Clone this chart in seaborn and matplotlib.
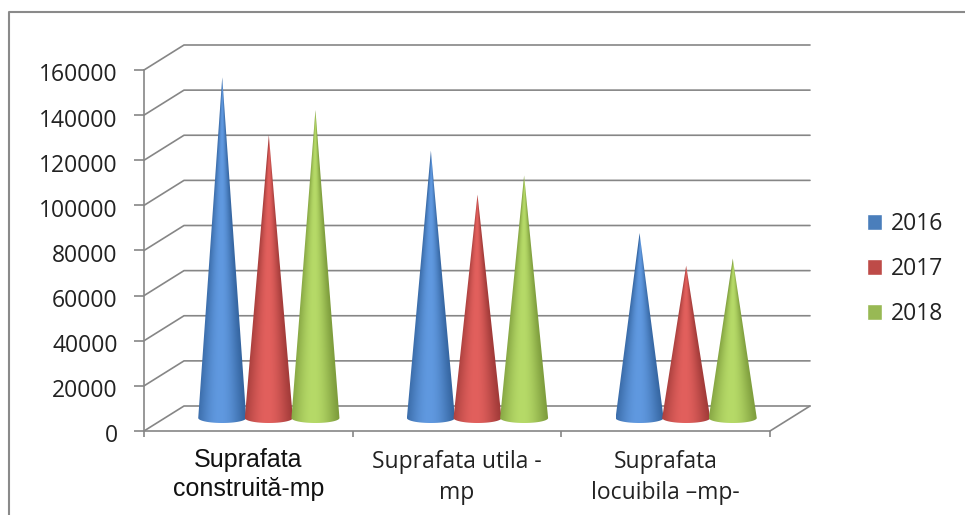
import numpy as np
import pandas as pd
import matplotlib
matplotlib.use('Agg')
import matplotlib.pyplot as plt
from matplotlib.lines import Line2D
from matplotlib.path import Path
from matplotlib.patches import PathPatch
from matplotlib.colors import to_rgb
from matplotlib.transforms import ScaledTranslation
import seaborn as sns

# values
categories = ['Suprafata\nconstruită-mp', 'Suprafata utila -\nmp', 'Suprafata\nlocuibila –mp-']
years = ['2016', '2017', '2018']
values_2016 = [151000, 118500, 82000]
values_2017 = [125500, 99000, 67500]
values_2018 = [136500, 107500, 70700]
y_ticks = [0, 20000, 40000, 60000, 80000, 100000, 120000, 140000, 160000]

palette = {'2016': '#4a7ebb', '2017': '#be4b48', '2018': '#98b954'}
dark = {'2016': '#34649f', '2017': '#a03a38', '2018': '#7d9c3c'}
light = {'2016': '#6099e0', '2017': '#e2605d', '2018': '#b6da68'}
grid_col = '#868686'
text_col = '#222222'

df = pd.DataFrame({
    'category': categories * 3,
    'year': [y for y in years for _ in categories],
    'value': values_2016 + values_2017 + values_2018,
})

sns.set_theme(style='white')
plt.rcParams['font.family'] = ['Open Sans', 'DejaVu Sans']

fig = plt.figure(figsize=(9.65, 5.15), dpi=100)
ax = fig.add_axes([144 / 965, (515 - 431) / 515, 626 / 965, 361 / 515])

sns.barplot(data=df, x='category', y='value', hue='year', palette=palette,
            saturation=1, width=0.67, ax=ax)

ax.set_xlim(-0.5, 2.5)
ax.set_ylim(0, 160000)
ax.set_xlabel('')
ax.set_ylabel('')

# sizes of the fake 3d box, pixels turned into data units
px_x = 3 / 626
px_y = 160000 / 361
wall_dx, wall_dy = 40 * px_x, 25 * px_y
cone_dx, cone_dy = 20.5 * px_x, 13 * px_y
ell_h = 5 * px_y

# gridlines on the back wall and the diagonals on the side wall
for t in y_ticks:
    ax.plot([-0.5, -0.5 + wall_dx, 2.5 + wall_dx], [t, t + wall_dy, t + wall_dy],
            color=grid_col, lw=1.2, clip_on=False, zorder=1)
ax.plot([2.5, 2.5 + wall_dx], [0, wall_dy], color=grid_col, lw=1.2, clip_on=False, zorder=1)


def draw_cone(bar, year):
    xc = bar.get_x() + bar.get_width() / 2 + cone_dx
    hw = bar.get_width() / 2 * 1.03
    top = bar.get_height() + cone_dy
    base = cone_dy

    xs = np.linspace(xc - hw, xc + hw, 120)
    ys = np.linspace(base - ell_h, top, 300)
    xx, yy = np.meshgrid(xs, ys)
    frac = np.clip((yy - base) / (top - base), 0, 0.995)
    u = (xx - xc) / (hw * (1 - frac))
    shade = np.clip(1 - ((u + 0.1) / 1.1) ** 2, 0, 1)[..., None] ** 1.5
    img = np.array(to_rgb(dark[year])) * (1 - shade) + np.array(to_rgb(light[year])) * shade

    im = ax.imshow(img, extent=[xc - hw, xc + hw, base - ell_h, top], origin='lower',
                   aspect='auto', interpolation='bilinear', zorder=3)
    ang = np.linspace(np.pi, 2 * np.pi, 30)
    pts = [(xc, top)] + [(xc + hw * np.cos(a), base + ell_h * np.sin(a)) for a in ang] + [(xc, top)]
    clip = PathPatch(Path(pts), transform=ax.transData, fc='none', ec='none')
    ax.add_patch(clip)
    im.set_clip_path(clip)


for container, year in zip(ax.containers, years):
    for bar in container:
        draw_cone(bar, year)

ax.set_xlim(-0.5, 2.5)
ax.set_ylim(0, 160000)

# legend uses the bars' colours, the flat bars themselves get hidden after
handles, labels = ax.get_legend_handles_labels()
ax.legend(handles, labels, loc='upper left', bbox_to_anchor=(866.5 / 965, 1 - 212 / 515),
          bbox_transform=fig.transFigure, frameon=False, prop={'family': 'Open Sans', 'size': 16.5},
          labelcolor=text_col, handlelength=0.66, handleheight=0.66, handletextpad=0.4,
          labelspacing=0.92, borderpad=0, borderaxespad=0)
for container in ax.containers:
    for bar in container:
        bar.set_visible(False)

# axes
for side in ['top', 'right']:
    ax.spines[side].set_visible(False)
for side in ['left', 'bottom']:
    ax.spines[side].set_color(grid_col)
    ax.spines[side].set_linewidth(1.2)

ax.set_yticks(y_ticks)
ax.set_yticklabels([str(t) for t in y_ticks], fontsize=16.5, color=text_col)
ax.tick_params(axis='y', length=7, width=1.2, color=grid_col, pad=12, left=True)
# the value labels sit a little under their ticks
for label in ax.get_yticklabels():
    label.set_transform(label.get_transform() + ScaledTranslation(0, -2.5 / 100, fig.dpi_scale_trans))

ax.set_xticks([-0.5, 0.5, 1.5, 2.5])
ax.set_xticklabels([])
ax.tick_params(axis='x', which='major', length=4, width=1.2, color=grid_col, bottom=True)
ax.set_xticks([0, 1, 2], minor=True)
ax.set_xticklabels(categories, minor=True, fontsize=16.5, color=text_col, linespacing=1.35)
ax.tick_params(axis='x', which='minor', length=0, pad=14)
first = ax.get_xticklabels(minor=True)[0]
first.set_family('Liberation Sans')
first.set_fontsize(18)
first.set_color('#111111')
first.set_linespacing(1.3)
ax.xaxis.get_minor_ticks()[0].set_pad(12)

# grey frame, only the top and left edges are in the picture
fig.add_artist(Line2D([9 / 965, 9 / 965, 1], [0, 1 - 12 / 515, 1 - 12 / 515],
                      color='#8a8a8a', lw=1.5, transform=fig.transFigure))

fig.savefig('out.png', dpi=100, facecolor='white')
